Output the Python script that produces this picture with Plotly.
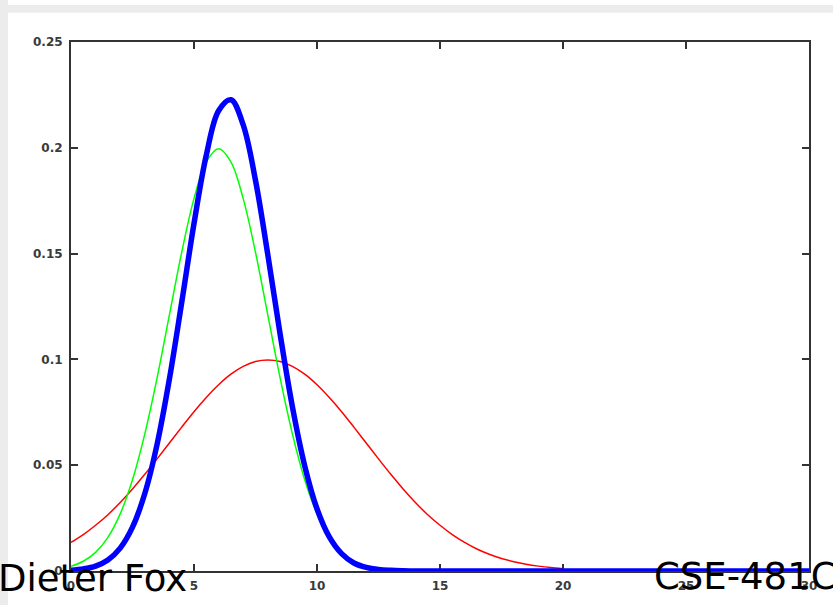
import plotly.graph_objects as go

# x positions (step 0.5)
x_red = [i * 0.5 for i in range(0, 41)]      # 0 .. 20
x_full = [i * 0.5 for i in range(0, 61)]     # 0 .. 30

red_y = [0.0135, 0.0172, 0.0216, 0.0266, 0.0324, 0.0388, 0.0457, 0.0530, 0.0605, 0.0680,
         0.0753, 0.0820, 0.0880, 0.0930, 0.0967, 0.0990, 0.0997, 0.0990, 0.0967, 0.0930,
         0.0880, 0.0820, 0.0753, 0.0680, 0.0605, 0.0530, 0.0457, 0.0388, 0.0324, 0.0266,
         0.0216, 0.0172, 0.0135, 0.0104, 0.0079, 0.0059, 0.0044, 0.0032, 0.0023, 0.0016,
         0.0011]

green_y = [0.0022, 0.0046, 0.0088, 0.0159, 0.0270, 0.0431, 0.0648, 0.0913, 0.1210, 0.1506,
           0.1760, 0.1933, 0.1995, 0.1933, 0.1760, 0.1506, 0.1210, 0.0913, 0.0648, 0.0431,
           0.0270, 0.0159, 0.0088, 0.0046, 0.0022, 0.0010, 0.0004, 0.0002, 0.0001, 0.0,
           0.0, 0.0, 0.0, 0.0, 0.0, 0.0, 0.0, 0.0, 0.0, 0.0,
           0.0, 0.0, 0.0, 0.0, 0.0, 0.0, 0.0, 0.0, 0.0, 0.0,
           0.0, 0.0, 0.0, 0.0, 0.0, 0.0, 0.0, 0.0, 0.0, 0.0,
           0.0]

blue_y = [0.0004, 0.0010, 0.0023, 0.0052, 0.0108, 0.0207, 0.0366, 0.0599, 0.0907, 0.1269,
          0.1642, 0.1965, 0.2175, 0.2227, 0.2108, 0.1846, 0.1495, 0.1120, 0.0776, 0.0497,
          0.0294, 0.0161, 0.0082, 0.0038, 0.0017, 0.0007, 0.0003, 0.0001, 0.0, 0.0,
          0.0, 0.0, 0.0, 0.0, 0.0, 0.0, 0.0, 0.0, 0.0, 0.0,
          0.0, 0.0, 0.0, 0.0, 0.0, 0.0, 0.0, 0.0, 0.0, 0.0,
          0.0, 0.0, 0.0, 0.0, 0.0, 0.0, 0.0, 0.0, 0.0, 0.0,
          0.0]

x_ticks = [0, 5, 10, 15, 20, 25, 30]
x_tick_labels = ["0", "5", "10", "15", "20", "25", "30"]
y_ticks = [0, 0.05, 0.1, 0.15, 0.2, 0.25]
y_tick_labels = ["0", "0.05", "0.1", "0.15", "0.2", "0.25"]

W, H = 833, 605
L, R, T, B = 71, 24, 42, 34
PW, PH = W - L - R, H - T - B


def px(xp):
    return (xp - L) / PW


def py(yp):
    return (H - B - yp) / PH


fig = go.Figure()
fig.add_trace(go.Scatter(x=x_red, y=red_y, mode="lines", line=dict(color="#ff0000", width=1.5, shape="spline"),
                         showlegend=False, hoverinfo="skip"))
fig.add_trace(go.Scatter(x=x_full, y=green_y, mode="lines", line=dict(color="#00ff00", width=1.5, shape="spline"),
                         showlegend=False, hoverinfo="skip"))
fig.add_trace(go.Scatter(x=x_full, y=blue_y, mode="lines", line=dict(color="#0000ff", width=5.5, shape="spline"),
                         showlegend=False, hoverinfo="skip"))

axis_common = dict(showgrid=False, zeroline=False, showline=True, linecolor="#333333", linewidth=2,
                   mirror="ticks", ticks="inside", ticklen=7, tickwidth=1.5, tickcolor="#333333",
                   tickfont=dict(family="DejaVu Sans", size=12, color="#3a3a3a", weight="bold"),
                   layer="below traces")

fig.update_xaxes(range=[0, 30], tickmode="array", tickvals=x_ticks, ticktext=x_tick_labels,
                 ticklabelstandoff=3, **axis_common)
fig.update_yaxes(range=[0, 0.25], tickmode="array", tickvals=y_ticks, ticktext=y_tick_labels,
                 ticklabelstandoff=4, **axis_common)

shapes = [
    dict(type="rect", xref="paper", yref="paper", x0=px(0), x1=px(8), y0=py(605), y1=py(0),
         fillcolor="#ececec", line=dict(width=0), layer="below"),
    dict(type="rect", xref="paper", yref="paper", x0=px(0), x1=px(833), y0=py(12.7), y1=py(5),
         fillcolor="#ececec", line=dict(width=0), layer="below"),
]

annotations = [
    dict(text="Dieter Fox", xref="paper", yref="paper", x=px(-3.5), y=py(578), xanchor="left", yanchor="middle",
         showarrow=False, font=dict(family="DejaVu Sans", size=37, color="#000000"), borderpad=0),
    dict(text="CSE-481C", xref="paper", yref="paper", x=px(653), y=py(576), xanchor="left", yanchor="middle",
         showarrow=False, font=dict(family="DejaVu Sans", size=37, color="#000000"), borderpad=0),
]

fig.update_layout(width=W, height=H, margin=dict(l=L, r=R, t=T, b=B, pad=0),
                  paper_bgcolor="#ffffff", plot_bgcolor="#ffffff",
                  shapes=shapes, annotations=annotations, showlegend=False)

fig.write_html("out.html", config={"displayModeBar": False})
